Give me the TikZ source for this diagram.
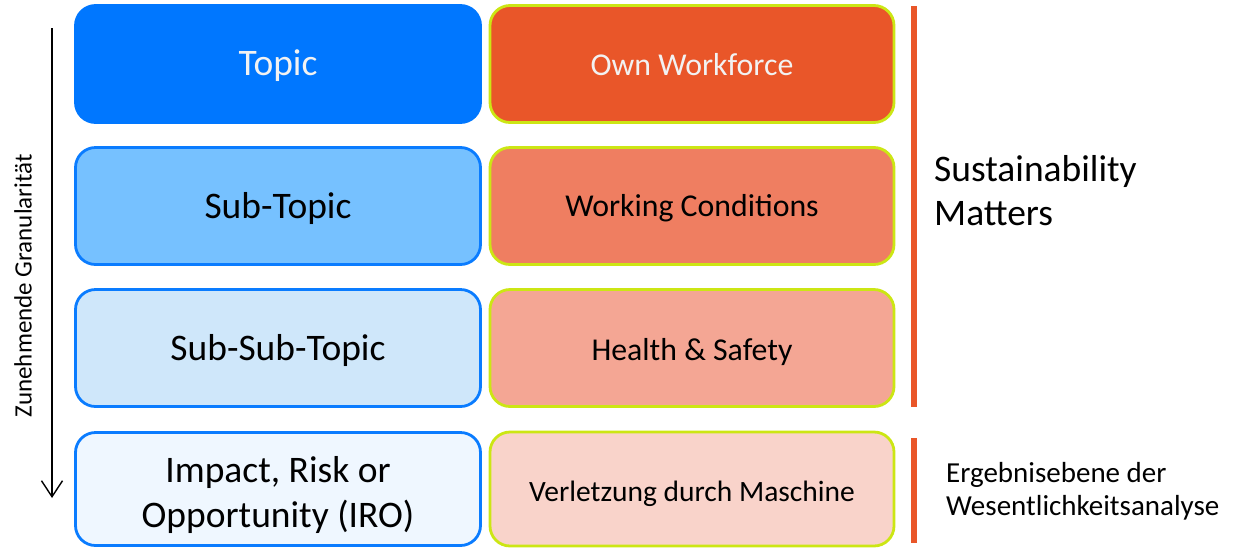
\documentclass[tikz,border=0pt]{standalone}
\usepackage{fontspec}
\setmainfont{Carlito}
\usetikzlibrary{arrows.meta}
\definecolor{topicblue}{RGB}{0,119,255}
\definecolor{edgeblue}{RGB}{10,124,255}
\definecolor{subblue}{RGB}{118,193,255}
\definecolor{subsubblue}{RGB}{207,231,250}
\definecolor{iroblue}{RGB}{239,247,255}
\definecolor{orangeA}{RGB}{233,86,41}
\definecolor{orangeB}{RGB}{239,126,97}
\definecolor{orangeC}{RGB}{244,166,148}
\definecolor{orangeD}{RGB}{249,211,202}
\definecolor{limeedge}{RGB}{204,230,20}
\definecolor{paletext}{RGB}{242,242,242}
\begin{document}
\begin{tikzpicture}[x=1pt,y=-1pt,
  levelbox/.style={draw=edgeblue, line width=2.8pt, rounded corners=20pt,
    minimum width=405pt, minimum height=117pt, inner sep=0pt},
  matterbox/.style={draw=limeedge, line width=2.8pt, rounded corners=20pt,
    minimum width=404pt, minimum height=117pt, inner sep=0pt},
  leveltext/.style={anchor=base, inner sep=0pt, font=\fontsize{37.5}{45}\selectfont},
  mattertext/.style={anchor=base, inner sep=0pt, font=\fontsize{31.8}{38}\selectfont},
  sidebar/.style={draw=orangeA, line width=6pt},
  sidenote/.style={anchor=west, align=left, inner sep=0pt}]
\useasboundingbox (0,0) rectangle (1238,547);

% left column: hierarchy levels
\node[levelbox, fill=topicblue, draw=topicblue] (topic) at (278,64) {};
\node[levelbox, fill=subblue] (sub) at (278,206) {};
\node[levelbox, fill=subsubblue] (subsub) at (278,348) {};
\node[levelbox, fill=iroblue, minimum height=113pt] (iro) at (278,489) {};
\node[leveltext, text=paletext] (topic-t) at (278,75) {Topic};
\node[leveltext] (sub-t) at (278,218) {Sub-Topic};
\node[leveltext] (subsub-t) at (278,360) {Sub-Sub-Topic};
\node[leveltext, anchor=center, align=center] (iro-t) at (278,494.5) {Impact, Risk or\\Opportunity (IRO)};

% right column: example
\node[matterbox, fill=orangeA] (own) at (692,64) {};
\node[matterbox, fill=orangeB] (work) at (692,206) {};
\node[matterbox, fill=orangeC] (health) at (692,348) {};
\node[matterbox, fill=orangeD, minimum height=114pt] (injury) at (692,489) {};
\node[mattertext, text=paletext] (own-t) at (692,75) {Own Workforce};
\node[mattertext] (work-t) at (692,216.7) {Working Conditions};
\node[mattertext] (health-t) at (692,360) {Health \& Safety};
\node[mattertext, font=\fontsize{29.5}{36}\selectfont] (injury-t) at (692,501.7) {Verletzung durch Maschine};

% granularity arrow
\coordinate (arrtop) at (52,28);
\coordinate (arrbot) at (52,498);
\draw[line width=1.4pt, -{Straight Barb[length=16pt,width=21pt,line width=1.4pt]}] (arrtop) -- (arrbot);
\node[rotate=90, inner sep=0pt, font=\fontsize{25}{30}\selectfont] (gran) at (23,286) {Zunehmende Granularität};

% brackets on the right
\coordinate (b1t) at (914,6);
\coordinate (b1b) at (914,407);
\coordinate (b2t) at (914,438);
\coordinate (b2b) at (914,543);
\draw[sidebar] (b1t) -- (b1b);
\draw[sidebar] (b2t) -- (b2b);
\node[sidenote, font=\fontsize{37.5}{44}\selectfont] (sm) at (934,191) {Sustainability\\Matters};
\node[sidenote, font=\fontsize{29}{33}\selectfont] (erg) at (946,491) {Ergebnisebene der\\Wesentlichkeitsanalyse};
\end{tikzpicture}
\end{document}
